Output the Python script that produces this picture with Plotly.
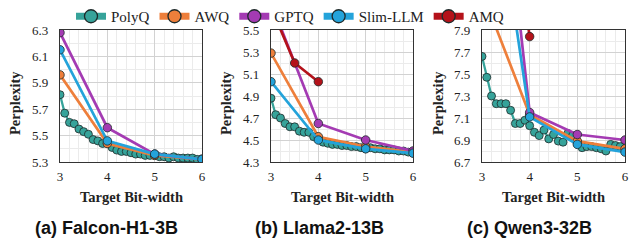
import plotly.graph_objects as go

# ---------------- data ----------------
bits_fine = [3.0, 3.1, 3.2, 3.3, 3.4, 3.5, 3.6, 3.7, 3.8, 3.9, 4.0,
             4.1, 4.2, 4.3, 4.4, 4.5, 4.6, 4.7, 4.8, 4.9, 5.0,
             5.1, 5.2, 5.3, 5.4, 5.5, 5.6, 5.7, 5.8, 5.9, 6.0]
bits_base = [3, 4, 5, 6]
bits_amq = [3.0, 3.5, 4.0]

# (a) Falcon-H1-3B
falcon_polyq = [5.81, 5.67, 5.60, 5.59, 5.55, 5.53, 5.51, 5.47, 5.46, 5.44, 5.44,
                5.41, 5.39, 5.38, 5.38, 5.37, 5.36, 5.36, 5.35, 5.35, 5.35,
                5.34, 5.34, 5.33, 5.34, 5.33, 5.33, 5.33, 5.33, 5.32, 5.32]
falcon_awq = [5.96, 5.44, 5.35, 5.32]
falcon_gptq = [6.28, 5.56, 5.36, 5.32]
falcon_slim = [6.15, 5.46, 5.36, 5.32]

# (b) Llama2-13B
llama_polyq = [4.88, 4.73, 4.70, 4.65, 4.62, 4.62, 4.58, 4.57, 4.57, 4.53, 4.51,
               4.48, 4.47, 4.46, 4.46, 4.45, 4.45, 4.44, 4.44, 4.43, 4.42,
               4.43, 4.42, 4.42, 4.41, 4.41, 4.41, 4.40, 4.40, 4.39, 4.39]
llama_awq = [5.29, 4.53, 4.44, 4.39]
llama_gptq = [5.75, 4.65, 4.50, 4.40]
llama_slim = [5.03, 4.50, 4.42, 4.38]
llama_amq = [5.71, 5.20, 5.03]

# (c) Qwen3-32B
qwen_polyq = [7.66, 7.47, 7.30, 7.23, 7.23, 7.23, 7.17, 7.05, 7.05, 7.08, 7.03,
              6.97, 6.94, 6.99, 6.91, 6.95, 6.89, 6.88, 6.96, 6.94, 6.87,
              6.83, 6.84, 6.84, 6.83, 6.82, 6.80, 6.86, 6.85, 6.84, 6.81]
qwen_awq = [8.25, 7.13, 6.89, 6.82]
qwen_gptq = [11.1, 7.15, 6.95, 6.90]
qwen_slim = [10.04, 7.11, 6.86, 6.79]
qwen_amq = [10.9, 9.4, 7.84]

panels = [
    dict(name="(a) Falcon-H1-3B", polyq=falcon_polyq, awq=falcon_awq, gptq=falcon_gptq,
         slim=falcon_slim, amq=None, yr=[5.3, 6.3], yt=[5.3, 5.5, 5.7, 5.9, 6.1, 6.3]),
    dict(name="(b) Llama2-13B", polyq=llama_polyq, awq=llama_awq, gptq=llama_gptq,
         slim=llama_slim, amq=llama_amq, yr=[4.3, 5.5], yt=[4.3, 4.5, 4.7, 4.9, 5.1, 5.3, 5.5]),
    dict(name="(c) Qwen3-32B", polyq=qwen_polyq, awq=qwen_awq, gptq=qwen_gptq,
         slim=qwen_slim, amq=qwen_amq, yr=[6.7, 7.9], yt=[6.7, 6.9, 7.1, 7.3, 7.5, 7.7, 7.9]),
]

methods = ["PolyQ", "AWQ", "GPTQ", "Slim-LLM", "AMQ"]
colors = {"PolyQ": "#36A39A", "AWQ": "#EE7F3B", "GPTQ": "#A43BB3",
          "Slim-LLM": "#24A3DA", "AMQ": "#B4121A"}

# ---------------- layout geometry ----------------
W, H = 638, 247
xdoms = [(60, 202), (271, 413), (482, 625)]
ytop, ybot = 30, 162
caption_x = [106, 320, 529]
ylabel_x = [15, 226, 438]

fig = go.Figure()
serif = "Liberation Serif"
sans = "Liberation Sans"

for i, p in enumerate(panels):
    ax = "" if i == 0 else str(i + 1)
    xref, yref = "x" + ax, "y" + ax
    series = [("PolyQ", bits_fine, p["polyq"]), ("AWQ", bits_base, p["awq"]),
              ("GPTQ", bits_base, p["gptq"]), ("Slim-LLM", bits_base, p["slim"]),
              ("AMQ", bits_amq, p["amq"])]
    for m, xs, ys in series:
        if ys is None:
            continue
        fig.add_trace(go.Scatter(
            x=xs, y=ys, mode="lines+markers", name=m, showlegend=False,
            xaxis=xref, yaxis=yref, cliponaxis=True,
            line=dict(color=colors[m], width=2.7 if m != "PolyQ" else 2.3),
            marker=dict(size=8.5 if m != "PolyQ" else 8, color=colors[m],
                        line=dict(color="#1e2a2a", width=0.8)),
        ))
    x0, x1 = xdoms[i]
    fig.layout["xaxis" + ax] = dict(
        domain=[x0 / W, x1 / W], range=[3, 6], tickvals=[3, 4, 5, 6],
        showgrid=True, gridcolor="#d2d2d2", gridwidth=1,
        minor=dict(dtick=0.2, showgrid=True, gridcolor="#ebebeb", gridwidth=1),
        showline=True, linecolor="#333", linewidth=1.3, mirror=True,
        ticks="", zeroline=False, anchor=yref, automargin=False,
        ticklabelstandoff=2,
        tickfont=dict(family=serif, size=13, color="#222"),
    )
    fig.layout["yaxis" + ax] = dict(
        domain=[1 - ybot / H, 1 - ytop / H], range=p["yr"], tickvals=p["yt"],
        ticktext=["%.1f" % v for v in p["yt"]],
        showgrid=True, gridcolor="#d2d2d2", gridwidth=1,
        minor=dict(dtick=0.1, showgrid=True, gridcolor="#ebebeb", gridwidth=1),
        showline=True, linecolor="#333", linewidth=1.3, mirror=True,
        ticks="", zeroline=False, anchor=xref, automargin=False,
        ticklabelstandoff=8,
        tickfont=dict(family=serif, size=13, color="#222"),
    )
    cx = (x0 + x1) / 2 / W
    fig.add_annotation(text="<b>Target Bit-width</b>", x=cx, y=1 - 197 / H,
                       xref="paper", yref="paper", showarrow=False,
                       xanchor="center", yanchor="middle",
                       font=dict(family=serif, size=14.5, color="#222"))
    fig.add_annotation(text="<b>%s</b>" % p["name"], x=caption_x[i] / W, y=1 - 228 / H,
                       xref="paper", yref="paper", showarrow=False,
                       xanchor="center", yanchor="middle",
                       font=dict(family=sans, size=18, color="#111"))
    fig.add_annotation(text="<b>Perplexity</b>", x=ylabel_x[i] / W, y=1 - 103 / H,
                       xref="paper", yref="paper", showarrow=False, textangle=-90,
                       xanchor="center", yanchor="middle",
                       font=dict(family=serif, size=14.5, color="#222"))

# legend-only traces
for m in methods:
    fig.add_trace(go.Scatter(
        x=[None], y=[None], mode="lines+markers", name=m, showlegend=True,
        line=dict(color=colors[m], width=7),
        marker=dict(size=13, color=colors[m], line=dict(color="#1e2a2a", width=1.3)),
    ))

fig.update_layout(
    width=W, height=H, margin=dict(l=0, r=0, t=0, b=0, autoexpand=False),
    paper_bgcolor="white", plot_bgcolor="white",
    showlegend=True,
    legend=dict(orientation="h", x=290 / W, xanchor="center", y=1.0, yanchor="top",
                font=dict(family=serif, size=15, color="#222"),
                itemwidth=30, tracegroupgap=0, bgcolor="rgba(0,0,0,0)",
                borderwidth=0),
)

fig.write_html("out.html")
